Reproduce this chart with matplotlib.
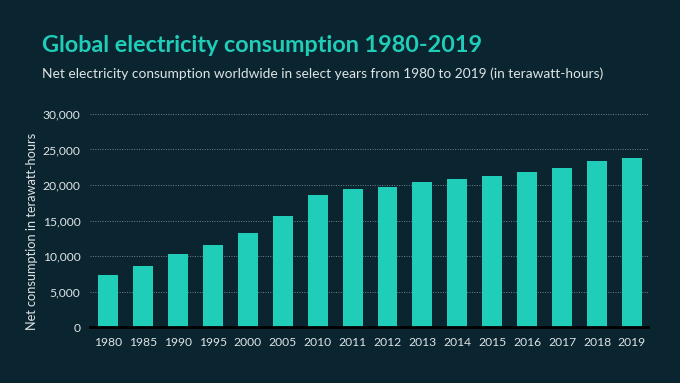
import numpy as np
import matplotlib
matplotlib.use("Agg")
import matplotlib.pyplot as plt
from matplotlib.ticker import FuncFormatter

years = ['1980', '1985', '1990', '1995', '2000', '2005', '2010', '2011',
         '2012', '2013', '2014', '2015', '2016', '2017', '2018', '2019']
consumption = [7270, 8630, 10320, 11490, 13270, 15700, 18610, 19400,
               19740, 20440, 20810, 21280, 21890, 22450, 23390, 23810]

bg = '#0b2530'
teal = '#20cdb9'
light = '#dde4e6'

plt.rcParams['font.family'] = ['Lato', 'DejaVu Sans']

fig = plt.figure(figsize=(6.8, 3.83), dpi=100, facecolor=bg)
ax = fig.add_axes([90 / 680, 1 - 327 / 383, (648 - 90) / 680, (327 - 114) / 383])
ax.set_facecolor(bg)

x = np.arange(len(years))
ax.bar(x, consumption, width=0.57, color=teal, zorder=3)

ax.set_xlim(-0.52, len(years) - 0.54)
ax.set_ylim(0, 30000)
ax.set_yticks(range(0, 30001, 5000))
ax.yaxis.set_major_formatter(FuncFormatter(lambda v, p: f'{int(v):,}'))
ax.set_xticks(x)
ax.set_xticklabels(years)

ax.grid(axis='y', color='#6f8289', linestyle=(0, (1, 1.5)), linewidth=0.7, zorder=0)
ax.tick_params(length=0, colors=light, labelsize=8.7)
ax.tick_params(axis='y', pad=7)
ax.tick_params(axis='x', pad=7)
for s in ['top', 'right', 'left']:
    ax.spines[s].set_visible(False)
ax.spines['bottom'].set_color('#000000')
ax.spines['bottom'].set_linewidth(2)
ax.spines['bottom'].set_zorder(4)

ax.set_ylabel('Net consumption in terawatt-hours', color=light, fontsize=9.2)
ax.yaxis.set_label_coords(-52 / 558, 0.45)

fig.text(42 / 680, 1 - 46 / 383, 'Global electricity consumption 1980-2019',
         color=teal, fontsize=16.8, fontweight='bold', va='center', ha='left')
fig.text(42 / 680, 1 - 74 / 383,
         'Net electricity consumption worldwide in select years from 1980 to 2019 (in terawatt-hours)',
         color=light, fontsize=9.9, va='center', ha='left')

fig.savefig('out.png', dpi=100, facecolor=bg)
